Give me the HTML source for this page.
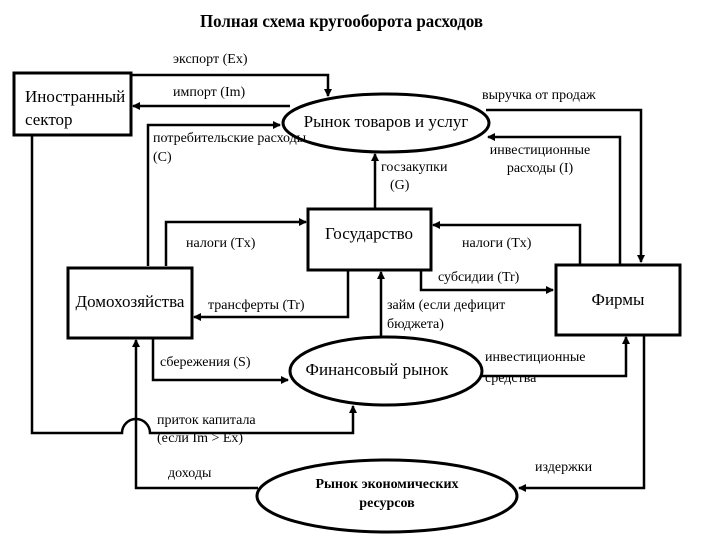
<!DOCTYPE html>
<html><head><meta charset="utf-8"><style>html,body{margin:0;padding:0;background:#fff}svg{display:block}</style></head>
<body>
<svg width="720" height="540" viewBox="0 0 720 540" xmlns="http://www.w3.org/2000/svg" font-family="Liberation Serif, DejaVu Serif, serif" fill="#000">
<defs>
<marker id="a" markerWidth="8" markerHeight="8" refX="7" refY="4" orient="auto" markerUnits="userSpaceOnUse"><path d="M0,0 L8,4 L0,8 z"/></marker>
</defs>
<text x="200" y="27" font-size="18" font-weight="bold" textLength="283" lengthAdjust="spacingAndGlyphs">Полная схема кругооборота расходов</text>
<g fill="none" stroke="#000" stroke-width="3">
<rect x="14" y="73" width="117" height="62"/>
<rect x="308" y="209" width="123" height="61"/>
<rect x="68" y="268" width="124" height="70"/>
<rect x="556" y="265" width="124" height="70"/>
<ellipse cx="386" cy="123" rx="103" ry="29"/>
<ellipse cx="386" cy="371" rx="96" ry="34"/>
<ellipse cx="387" cy="496" rx="130" ry="36"/>
</g>
<g fill="none" stroke="#000" stroke-width="2.5" marker-end="url(#a)">
<path d="M131,75 H328 V96"/>
<path d="M290,106 H133"/>
<path d="M148,266 V125 H280"/>
<path d="M166,266 V222 H306"/>
<path d="M375,208 V154"/>
<path d="M486,110 H641 V262"/>
<path d="M620,264 V137 H488"/>
<path d="M580,264 V225 H433"/>
<path d="M421,270 V290 H553"/>
<path d="M348,270 V317 H194"/>
<path d="M153,338 V380 H288"/>
<path d="M381,337 V272"/>
<path d="M482,376 H626 V337"/>
<path d="M644,335 V488 H519"/>
<path d="M258,488 H136 V340"/>
<path d="M32,135 V433 H122 A14,14 0 0 1 150,433 H353 V406"/>
</g>
<g font-size="14">
<text x="173" y="63">экспорт (Ex)</text>
<text x="173" y="96">импорт (Im)</text>
<text x="153" y="142">потребительские расходы</text>
<text x="153" y="161">(C)</text>
<text x="381" y="171">госзакупки</text>
<text x="390" y="189">(G)</text>
<text x="482" y="99">выручка от продаж</text>
<text x="540" y="154" text-anchor="middle">инвестиционные</text>
<text x="540" y="172" text-anchor="middle">расходы (I)</text>
<text x="186" y="247">налоги (Tx)</text>
<text x="462" y="247">налоги (Tx)</text>
<text x="438" y="281">субсидии (Tr)</text>
<text x="208" y="309">трансферты (Tr)</text>
<text x="387" y="309">займ (если дефицит</text>
<text x="387" y="328">бюджета)</text>
<text x="160" y="366">сбережения (S)</text>
<text x="485" y="361">инвестиционные</text>
<text x="485" y="382">средства</text>
<text x="157" y="424">приток капитала</text>
<text x="157" y="442">(если Im &gt; Ex)</text>
<text x="168" y="477">доходы</text>
<text x="535" y="471">издержки</text>
</g>
<g font-size="17">
<text x="25" y="102">Иностранный</text>
<text x="25" y="125">сектор</text>
<text x="386" y="127" text-anchor="middle">Рынок товаров и услуг</text>
<text x="369" y="239" text-anchor="middle">Государство</text>
<text x="130" y="307" text-anchor="middle">Домохозяйства</text>
<text x="618" y="305" text-anchor="middle">Фирмы</text>
<text x="377" y="375" text-anchor="middle">Финансовый рынок</text>
</g>
<g font-size="14" font-weight="bold">
<text x="387" y="488" text-anchor="middle">Рынок экономических</text>
<text x="387" y="507" text-anchor="middle">ресурсов</text>
</g>
</svg>
</body></html>
